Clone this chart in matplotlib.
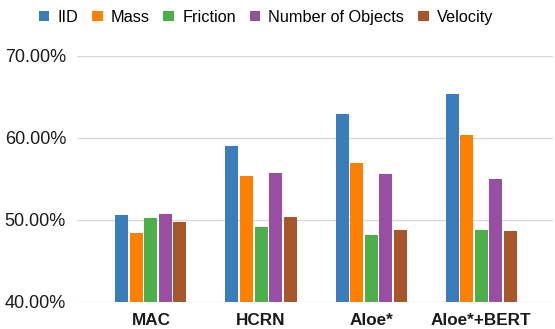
import numpy as np
import matplotlib
matplotlib.use("Agg")
import matplotlib.pyplot as plt
from matplotlib.ticker import FuncFormatter

plt.rcParams['font.family'] = ['Liberation Sans', 'DejaVu Sans']

# --- Data ---
models = ["MAC", "HCRN", "Aloe*", "Aloe*+BERT"]
series_names = ["IID", "Mass", "Friction", "Number of Objects", "Velocity"]
iid = [50.6, 58.97, 62.94, 65.39]
mass = [48.33, 55.35, 56.94, 60.33]
friction = [50.24, 49.15, 48.13, 48.81]
num_objects = [50.73, 55.75, 55.59, 55.02]
velocity = [49.76, 50.37, 48.74, 48.57]
colors = ["#3a7dbb", "#ff7f00", "#4daf4a", "#984ea3", "#a65628"]

series = [iid, mass, friction, num_objects, velocity]

fig = plt.figure(figsize=(5.55, 3.29), dpi=100)
ax = fig.add_axes([0.139, 0.083, 0.857, 0.747])

x = np.arange(len(models))
slot = 0.132
width = 0.118
for i, (name, vals) in enumerate(zip(series_names, series)):
    offs = (i - 2) * slot
    ax.bar(x + offs, np.array(vals) - 40, width=width, bottom=40,
           color=colors[i], label=name, zorder=3)

ax.set_ylim(40, 70)
ax.set_xlim(-0.67, 3.65)
ax.set_yticks([40, 50, 60, 70])
ax.yaxis.set_major_formatter(FuncFormatter(lambda v, p: f"{v:.2f}%"))
ax.grid(axis='y', color='#d9d9d9', linewidth=1, zorder=0)
for s in ax.spines.values():
    s.set_visible(False)
ax.tick_params(axis='both', length=0)
ax.tick_params(axis='y', labelsize=13, pad=8, labelcolor='#1a1a1a')
ax.set_xticks(x)
ax.set_xticklabels(models, fontsize=12.3, fontweight='bold', color='#1a1a1a')
ax.tick_params(axis='x', pad=8)

fig.legend(loc='upper center', bbox_to_anchor=(0.479, 1.015), ncol=5, frameon=False,
           fontsize=11.7, handlelength=0.65, handleheight=0.65, handletextpad=0.5,
           columnspacing=0.85)

fig.savefig("out.png", dpi=100)
